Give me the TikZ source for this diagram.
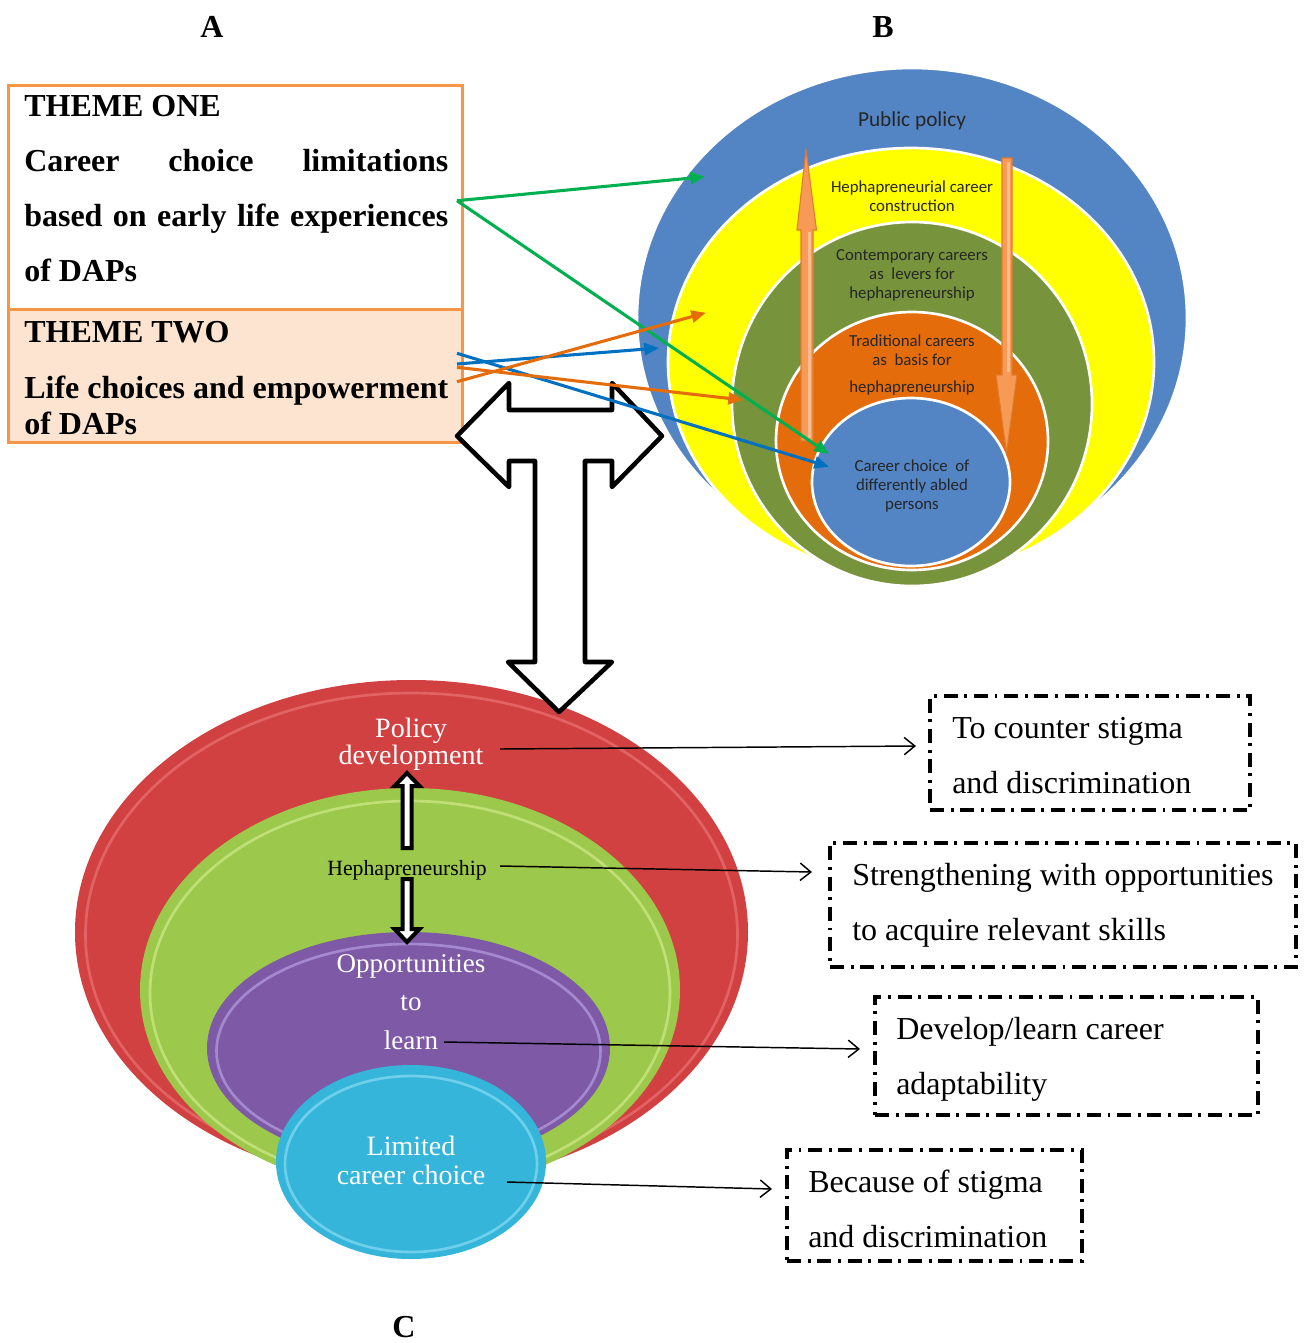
\documentclass[tikz,border=0pt]{standalone}
\usepackage{fontspec}
\setmainfont{Liberation Serif}
\newfontfamily\calib{Carlito}
\usetikzlibrary{arrows.meta}
\definecolor{bblue}{HTML}{5384C4}
\definecolor{byellow}{HTML}{FFFF00}
\definecolor{bgreen}{HTML}{77933C}
\definecolor{borange}{HTML}{E46C0A}
\definecolor{tborder}{HTML}{F79646}
\definecolor{tfill}{HTML}{FDE4D1}
\definecolor{arrfill}{HTML}{F79A55}
\definecolor{arrdraw}{HTML}{E07A30}
\definecolor{lgreen}{HTML}{00B050}
\definecolor{lorange}{HTML}{E46C0A}
\definecolor{lblue}{HTML}{0070C0}
\definecolor{cred}{HTML}{D24141}
\definecolor{credrim}{HTML}{E87272}
\definecolor{cgreen}{HTML}{9CC84B}
\definecolor{cgreenrim}{HTML}{C9E782}
\definecolor{cpurple}{HTML}{7D59A6}
\definecolor{cpurplerim}{HTML}{B096DA}
\definecolor{ccyan}{HTML}{34B5D9}
\definecolor{ccyanrim}{HTML}{7FD6EF}
\begin{document}
\begin{tikzpicture}[x=0.75pt,y=-0.75pt,
  lab/.style={font=\bfseries\fontsize{24pt}{28pt}\selectfont, anchor=base, inner sep=0pt},
  themetxt/.style={font=\bfseries\fontsize{24pt}{28pt}\selectfont, anchor=base west, inner sep=0pt},
  themebox/.style={draw=tborder, line width=2.25pt, inner sep=0pt},
  ring/.style={draw=white, line width=2pt},
  btxt/.style={font=\calib\fontsize{12.6pt}{14pt}\selectfont, text=black!85, anchor=base, inner sep=0pt},
  ctxt/.style={font=\fontsize{21pt}{24pt}\selectfont, text=white, anchor=base, inner sep=0pt},
  blockarr/.style={fill=arrfill, draw=arrdraw, line width=0.8pt},
  bigarr/.style={draw=black, fill=white, line width=3.4pt, line join=round},
  smallarr/.style={draw=black, fill=white, line width=3pt, line join=miter},
  colarr/.style={line width=2.3pt, -{Triangle[length=11pt,width=9pt]}},
  conn/.style={draw=black, line width=1.1pt, -{Straight Barb[length=8pt,width=13pt]}},
  dbox/.style={draw=black, line width=2.6pt, dash pattern=on 10.5pt off 5pt on 2.2pt off 5pt, inner sep=0pt},
  dtxt/.style={font=\fontsize{24pt}{28pt}\selectfont, anchor=base west, inner sep=0pt}
]
\useasboundingbox (0,0) rectangle (1305,1343);
\fill[white] (0,0) rectangle (1305,1343);

% ---------- labels
\node[lab] (labA) at (212,37) {A};
\node[lab] (labB) at (883,37) {B};
\node[lab] (labC) at (404,1337) {C};

% ---------- theme boxes
\node[themebox, fill=white, minimum width=340.5pt, minimum height=168.2pt] (t1) at (235.3,197.2) {};
\node[themebox, fill=tfill, minimum width=340.5pt, minimum height=100pt] (t2) at (235.3,376) {};
\node[themetxt] (t1a) at (24,116) {THEME ONE};
\node[themetxt] (t1b) at (24,171) {\makebox[318pt][s]{Career choice limitations}};
\node[themetxt] (t1c) at (24,226) {\makebox[318pt][s]{based on early life experiences}};
\node[themetxt] (t1d) at (24,281) {of DAPs};
\node[themetxt] (t2a) at (24,342) {THEME TWO};
\node[themetxt] (t2b) at (24,398) {Life choices and empowerment};
\node[themetxt] (t2c) at (24,434) {of DAPs};

% ---------- B circles
\path[fill=bblue, ring] (912,318) ellipse [x radius=275, y radius=250];
\path[fill=byellow, ring] (911,362) ellipse [x radius=243, y radius=214];
\path[fill=bgreen, ring] (912,404) ellipse [x radius=180, y radius=182];
\path[fill=borange, ring] (912,441) ellipse [x radius=136, y radius=129];
\path[fill=bblue, ring] (911,482) ellipse [x radius=99, y radius=84];

\node[btxt, font=\calib\fontsize{16pt}{18pt}\selectfont] (pp) at (912,126) {Public policy};
\node[btxt] (h1) at (912,192) {Hephapreneurial career};
\node[btxt] (h2) at (912,211) {construction};
\node[btxt] (c1) at (912,260) {Contemporary careers};
\node[btxt] (c2) at (912,279) {as\ \ levers for};
\node[btxt] (c3) at (912,298) {hephapreneurship};
\node[btxt] (r1) at (912,346) {Traditional careers};
\node[btxt] (r2) at (912,365) {as\ \ basis for};
\node[btxt] (r3) at (912,392) {hephapreneurship};
\node[btxt] (d1) at (912,471) {Career choice\ \ of};
\node[btxt] (d2) at (912,490) {differently abled};
\node[btxt] (d3) at (912,509) {persons};

% orange block arrows
\draw[blockarr] (801,441) -- (801,230) -- (797,230) -- (806,150) -- (816.5,230) -- (813,230) -- (813,441) -- cycle;
\draw[blockarr] (1002,158) -- (1012,158) -- (1012,375) -- (1017,375) -- (1006.5,453) -- (996,375) -- (1002,375) -- cycle;
\fill[white, opacity=.35] (808,232) rectangle (811,438);
\fill[white, opacity=.35] (1007,162) rectangle (1010,372);

% ---------- C ellipses
\path[fill=cred] (411.5,932) ellipse [x radius=336.5, y radius=252];
\draw[credrim, line width=2pt, opacity=.7] (411.5,935) ellipse [x radius=326, y radius=242];
\path[fill=cgreen] (410,990) ellipse [x radius=270, y radius=202];
\draw[cgreenrim, line width=2pt, opacity=.8] (410,993) ellipse [x radius=260, y radius=192];
\path[fill=cpurple] (408.5,1048) ellipse [x radius=201.5, y radius=116];
\draw[cpurplerim, line width=2pt, opacity=.8] (408.5,1051) ellipse [x radius=192, y radius=107];
\path[fill=ccyan] (411,1162) ellipse [x radius=135, y radius=97];
\draw[ccyanrim, line width=2pt, opacity=.8] (411,1164) ellipse [x radius=126, y radius=88];

\node[ctxt] (pd1) at (411,737) {Policy};
\node[ctxt] (pd2) at (411,764) {development};
\node[ctxt, text=black, font=\fontsize{16.3pt}{18pt}\selectfont] (heph) at (407,875) {Hephapreneurship};
\node[ctxt, font=\fontsize{20.3pt}{24pt}\selectfont] (op1) at (411,972) {Opportunities};
\node[ctxt, font=\fontsize{20.3pt}{24pt}\selectfont] (op2) at (411,1010) {to};
\node[ctxt, font=\fontsize{20.3pt}{24pt}\selectfont] (op3) at (411,1049) {learn};
\node[ctxt] (lc1) at (411,1155) {Limited};
\node[ctxt] (lc2) at (411,1184) {career choice};

% small block arrows
\draw[smallarr] (407,773) -- (419.5,786) -- (411.5,786) -- (411.5,848) -- (402.5,848) -- (402.5,786) -- (394.5,786) -- cycle;
\draw[smallarr] (402.5,879) -- (411.5,879) -- (411.5,929) -- (419.5,929) -- (407,942) -- (394.5,929) -- (402.5,929) -- cycle;

% ---------- big T arrow
\draw[bigarr] (457,436) -- (509,383) -- (509,410) -- (612,410) -- (612,383) -- (662,436) -- (612,487) -- (612,461) -- (585,461) -- (585,662) -- (612,662) -- (559,712) -- (508,662) -- (535,662) -- (535,461) -- (509,461) -- (509,487) -- cycle;

% ---------- coloured arrows
\coordinate (g0) at (457,200.7);
\coordinate (g1) at (705,176.7);
\coordinate (g2) at (829,454);
\coordinate (b0) at (457,353.3);
\coordinate (b1) at (829,466.7);
\coordinate (b2s) at (457,364);
\coordinate (b2) at (659,348);
\coordinate (o0) at (457,367.3);
\coordinate (o1) at (743,400);
\coordinate (o2s) at (457,381.7);
\coordinate (o2) at (706,312.7);
\draw[colarr, lgreen] (g0) -- (g1);
\draw[colarr, lgreen] (g0) -- (g2);
\draw[colarr, lblue] (b0) -- (b1);
\draw[colarr, lblue] (b2s) -- (b2);
\draw[colarr, lorange] (o0) -- (o1);
\draw[colarr, lorange] (o2s) -- (o2);

% ---------- dashed boxes
\node[dbox, minimum width=240pt, minimum height=85.5pt] (bx1) at (1090,753) {};
\node[dbox, minimum width=349.5pt, minimum height=93pt] (bx2) at (1063,905) {};
\node[dbox, minimum width=287.25pt, minimum height=88.5pt] (bx3) at (1066.5,1056) {};
\node[dbox, minimum width=221.25pt, minimum height=83.25pt] (bx4) at (934.5,1205.5) {};
\node[dtxt] (x1a) at (952,738) {To counter stigma};
\node[dtxt] (x1b) at (952,793) {and discrimination};
\node[dtxt] (x2a) at (852,885) {Strengthening with opportunities};
\node[dtxt] (x2b) at (852,940) {to acquire relevant skills};
\node[dtxt] (x3a) at (896,1039) {Develop/learn career};
\node[dtxt] (x3b) at (896,1094) {adaptability};
\node[dtxt] (x4a) at (808,1192) {Because of stigma};
\node[dtxt] (x4b) at (808,1247) {and discrimination};

% ---------- connectors
\coordinate (k1s) at (500,749);
\coordinate (k1e) at (916,746);
\coordinate (k2s) at (500,866);
\coordinate (k2e) at (812,872);
\coordinate (k3s) at (444,1042);
\coordinate (k3e) at (860,1049);
\coordinate (k4s) at (507,1182);
\coordinate (k4e) at (772,1189);
\draw[conn] (k1s) -- (k1e);
\draw[conn] (k2s) -- (k2e);
\draw[conn] (k3s) -- (k3e);
\draw[conn] (k4s) -- (k4e);
\end{tikzpicture}
\end{document}
